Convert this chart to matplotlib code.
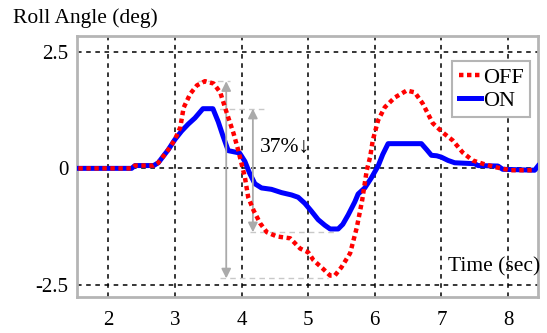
import matplotlib
matplotlib.use("Agg")
import matplotlib.pyplot as plt

# roll angle traces (time in sec, angle in deg)
t_on = [1.55, 2.35, 2.4, 2.68, 2.75, 2.9, 3.0, 3.1, 3.2, 3.3, 3.42, 3.57, 3.65,
        3.72, 3.8, 3.97, 4.05, 4.12, 4.2, 4.3, 4.45, 4.6, 4.75, 4.85, 4.95, 5.05,
        5.15, 5.25, 5.33, 5.45, 5.52, 5.6, 5.7, 5.75, 5.85, 5.95, 6.05, 6.12,
        6.2, 6.7, 6.78, 6.85, 6.93, 7.0, 7.1, 7.2, 7.5, 7.55, 7.85, 7.92, 8.4, 8.45]
roll_on = [0.0, 0.0, 0.06, 0.06, 0.12, 0.4, 0.62, 0.8, 0.95, 1.08, 1.28, 1.28, 1.0,
           0.7, 0.38, 0.33, 0.15, -0.1, -0.33, -0.42, -0.45, -0.52, -0.57, -0.62,
           -0.75, -0.92, -1.1, -1.22, -1.3, -1.3, -1.2, -1.0, -0.72, -0.55, -0.42,
           -0.2, 0.05, 0.3, 0.53, 0.53, 0.4, 0.28, 0.27, 0.24, 0.17, 0.12, 0.1,
           0.06, 0.05, -0.02, -0.04, 0.05]

t_off = [1.55, 2.35, 2.4, 2.68, 2.75, 2.9, 3.0, 3.08, 3.13, 3.23, 3.33, 3.45, 3.58,
         3.68, 3.78, 3.88, 3.95, 4.0, 4.05, 4.1, 4.18, 4.28, 4.38, 4.53, 4.73,
         4.88, 5.0, 5.08, 5.22, 5.33, 5.4, 5.5, 5.63, 5.73, 5.81, 5.88, 5.93,
         5.97, 6.05, 6.15, 6.3, 6.48, 6.6, 6.72, 6.87, 7.02, 7.17, 7.32, 7.47,
         7.62, 7.83, 8.03, 8.4]
roll_off = [0.0, 0.0, 0.06, 0.06, 0.12, 0.4, 0.62, 0.88, 1.3, 1.6, 1.78, 1.87, 1.82,
            1.63, 1.18, 0.75, 0.39, 0.1, -0.19, -0.62, -0.9, -1.18, -1.37, -1.46,
            -1.5, -1.72, -1.8, -1.97, -2.15, -2.3, -2.3, -2.12, -1.82, -1.27, -0.69,
            -0.04, 0.24, 0.6, 1.03, 1.31, 1.52, 1.67, 1.63, 1.39, 0.97, 0.77, 0.6,
            0.34, 0.17, 0.1, 0.02, -0.04, -0.04]

x_ticks = [2, 3, 4, 5, 6, 7, 8]
y_ticks = [-2.5, 0, 2.5]
y_labels = ["-2.5", "0", "2.5"]

serif = ["Liberation Serif", "DejaVu Sans"]
plt.rcParams["font.family"] = serif

fig = plt.figure(figsize=(5.47, 3.33), dpi=100)
ax = fig.add_axes([0.1408, 0.108, 0.8427, 0.784])

line_on, = ax.plot(t_on, roll_on, color="blue", lw=3.6, label="ON", zorder=3)
line_off, = ax.plot(t_off, roll_off, color="red", lw=3.2, ls=(0, (1.0, 0.8)),
                    label="OFF", zorder=4)

ax.set_xlim(1.53, 8.45)
ax.set_ylim(-2.76, 2.84)
ax.set_xticks(x_ticks)
ax.set_yticks(y_ticks)
ax.set_yticklabels(y_labels)
ax.tick_params(length=0, labelsize=15, colors="black")
ax.tick_params(axis="x", pad=10)
ax.tick_params(axis="y", pad=6)
ax.grid(True, color="black", ls=(0, (3, 3)), lw=1.1)
for s in ax.spines.values():
    s.set_color("#b5b5b5")
    s.set_linewidth(2)

# amplitude comparison annotations
gray = "#aaaaaa"
light = "#c8c8c8"
on_max, on_min = max(roll_on), min(roll_on)
off_max, off_min = max(roll_off), min(roll_off)
ax.plot([3.35, 3.82], [off_max, off_max], color=light, lw=1, ls=(0, (4, 3)))
ax.plot([3.38, 4.33], [on_max, on_max], color=light, lw=1, ls=(0, (4, 3)))
ax.plot([4.13, 5.42], [on_min - 0.07, on_min - 0.07], color=light, lw=1, ls=(0, (4, 3)))
ax.plot([3.68, 5.3], [off_min - 0.06, off_min - 0.06], color=light, lw=1, ls=(0, (4, 3)))
arrow = dict(arrowstyle="<|-|>", color=gray, lw=1.3, mutation_scale=14,
             shrinkA=0, shrinkB=0)
ax.annotate("", xy=(3.77, off_max), xytext=(3.77, off_min - 0.06), arrowprops=arrow)
ax.annotate("", xy=(4.17, on_max), xytext=(4.17, on_min - 0.07), arrowprops=arrow)
ax.text(4.27, 0.45, "37%↓", fontsize=15.5, va="center", ha="left")

ax.text(8.48, -2.12, "Time (sec)", fontsize=15.5, ha="right", va="center")
fig.text(13 / 547, 1 - 18 / 333, "Roll Angle (deg)", fontsize=15.5, ha="left",
         va="center")

leg = ax.legend(handles=[line_off, line_on], labels=["OFF", "ON"],
                loc="upper right", bbox_to_anchor=(0.983, 0.905),
                borderaxespad=0, fancybox=False, framealpha=1, fontsize=16,
                handlelength=1.0, handletextpad=0.1, borderpad=0.28,
                labelspacing=0.12, edgecolor="#b5b5b5")
leg.get_frame().set_linewidth(1.5)

fig.savefig("out.png", dpi=100)
